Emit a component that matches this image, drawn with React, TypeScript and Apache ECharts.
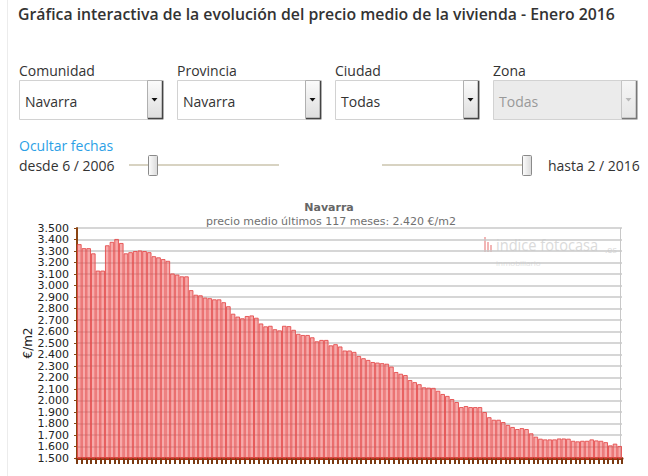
import React, { useEffect, useRef } from "react";
import * as echarts from "echarts";

// ---- data ----
const monthLabels: string[] = (() => {
  const out: string[] = [];
  let m = 6, y = 2006;
  while (!(y === 2016 && m === 3)) {
    out.push(`${m}/${y}`);
    m++;
    if (m > 12) { m = 1; y++; }
  }
  return out;
})();

const prices: number[] = [
  3360, 3325, 3325, 3280, 3130, 3130, 3350, 3380, 3405, 3370,
  3280, 3290, 3300, 3305, 3300, 3290, 3255, 3245, 3230, 3215,
  3105, 3095, 3080, 3080, 2960, 2920, 2915, 2895, 2890, 2880,
  2880, 2855, 2820, 2755, 2730, 2715, 2735, 2740, 2720, 2670,
  2645, 2650, 2620, 2610, 2650, 2647, 2615, 2580, 2570, 2570,
  2550, 2515, 2527, 2527, 2480, 2490, 2470, 2435, 2435, 2423,
  2388, 2368, 2353, 2335, 2330, 2325, 2320, 2295, 2248, 2233,
  2222, 2178, 2160, 2142, 2115, 2112, 2110, 2085, 2057, 2040,
  2013, 1987, 1943, 1952, 1943, 1943, 1943, 1900, 1855, 1833,
  1833, 1813, 1788, 1770, 1752, 1760, 1752, 1715, 1686, 1668,
  1662, 1662, 1662, 1670, 1670, 1668, 1650, 1645, 1650, 1650,
  1662, 1653, 1650, 1638, 1610, 1625, 1605,
];

const pageTitle = "Gráfica interactiva de la evolución del precio medio de la vivienda - Enero 2016";
const selectLabels = ["Comunidad", "Provincia", "Ciudad", "Zona"];
const selectValues = ["Navarra", "Navarra", "Todas", "Todas"];
const chartTitle = "Navarra";
const chartSubtitle = "precio medio últimos 117 meses: 2.420 €/m2";
const yName = "€/m2";

const UI_FONT = "'Open Sans', sans-serif";
const CH_FONT = "'DejaVu Sans', Verdana, sans-serif";

function fmtThousands(v: number): string {
  const th = Math.floor(v / 1000);
  const rest = Math.round(v % 1000);
  return th > 0 ? `${th}.${String(rest).padStart(3, "0")}` : String(rest);
}

function selectBox(x: number, label: string, value: string, disabled: boolean): any[] {
  const y = 80, w = 144, h = 39, bw = 16;
  const bx = x + w - bw;
  return [
    { type: "text", x, y: 70, style: { text: label, fill: "#333", font: `14px ${UI_FONT}`, textVerticalAlign: "middle" } },
    { type: "rect", shape: { x: x + 0.5, y: y + 0.5, width: w, height: h }, style: { fill: disabled ? "#ebebeb" : "#fff", stroke: "#d2d2d2", lineWidth: 1 } },
    { type: "text", x: x + 6, y: y + 21, style: { text: value, fill: disabled ? "#999" : "#333", font: `14px ${UI_FONT}`, textVerticalAlign: "middle" } },
    {
      type: "rect", shape: { x: bx + 0.5, y: y + 0.5, width: bw - 1, height: h - 1 },
      style: {
        fill: new echarts.graphic.LinearGradient(0, 0, 0, 1, [
          { offset: 0, color: disabled ? "#f6f6f6" : "#fbfbfb" },
          { offset: 1, color: disabled ? "#e6e6e6" : "#dedede" },
        ]),
        stroke: disabled ? "#c4c4c4" : "#b0b0b0", lineWidth: 1,
      },
    },
    { type: "line", shape: { x1: bx + bw - 0.5, y1: y + 1, x2: bx + bw - 0.5, y2: y + h }, style: { stroke: disabled ? "#777" : "#444", lineWidth: 1.5 } },
    { type: "line", shape: { x1: bx + 1, y1: y + h - 0.5, x2: bx + bw, y2: y + h - 0.5 }, style: { stroke: disabled ? "#777" : "#444", lineWidth: 1.5 } },
    { type: "polygon", shape: { points: [[bx + 4.5, y + 18], [bx + 10.5, y + 18], [bx + 7.5, y + 21.5]] }, style: { fill: disabled ? "#b8b8b8" : "#111" } },
  ];
}

function slider(x1: number, x2: number, hx: number): any[] {
  return [
    { type: "line", shape: { x1, y1: 165, x2, y2: 165 }, style: { stroke: "#d8d3c2", lineWidth: 2 } },
    {
      type: "rect", shape: { x: hx + 0.5, y: 155.5, width: 9, height: 20, r: 1 },
      style: {
        fill: new echarts.graphic.LinearGradient(0, 0, 1, 0, [
          { offset: 0, color: "#fdfdfd" },
          { offset: 1, color: "#d9d9d9" },
        ]),
        stroke: "#8a8a8a", lineWidth: 1,
      },
    },
  ];
}

export default function App() {
  const ref = useRef<HTMLDivElement>(null);

  useEffect(() => {
    if (!ref.current) return;
    const chart = echarts.init(ref.current, undefined, { renderer: "svg" });

    const graphics: any[] = [
      { type: "line", shape: { x1: 7.5, y1: 0, x2: 7.5, y2: 476 }, style: { stroke: "#ececec", lineWidth: 1 } },
      { type: "text", x: 18, y: 14, style: { text: pageTitle, fill: "#333", font: `600 15.8px ${UI_FONT}`, textVerticalAlign: "middle" } },
      ...selectBox(19, selectLabels[0], selectValues[0], false),
      ...selectBox(177, selectLabels[1], selectValues[1], false),
      ...selectBox(335, selectLabels[2], selectValues[2], false),
      ...selectBox(493, selectLabels[3], selectValues[3], true),
      { type: "text", x: 19, y: 145, style: { text: "Ocultar fechas", fill: "#2c9fe6", font: `14px ${UI_FONT}`, textVerticalAlign: "middle" } },
      { type: "text", x: 19, y: 165, style: { text: "desde 6 / 2006", fill: "#333", font: `14px ${UI_FONT}`, textVerticalAlign: "middle" } },
      ...slider(129, 279, 148),
      ...slider(382, 523, 522),
      { type: "text", x: 548, y: 165, style: { text: "hasta 2 / 2016", fill: "#333", font: `14px ${UI_FONT}`, textVerticalAlign: "middle" } },
      // chart titles
      { type: "text", x: 329, y: 207, style: { text: chartTitle, fill: "#666", font: `bold 11px ${CH_FONT}`, textAlign: "center", textVerticalAlign: "middle" } },
      { type: "text", x: 331, y: 221, style: { text: chartSubtitle, fill: "#707070", font: `11px ${CH_FONT}`, textAlign: "center", textVerticalAlign: "middle" } },
      // watermark
      { type: "rect", shape: { x: 484, y: 237, width: 2, height: 15 }, style: { fill: "#f2b5b5" } },
      { type: "rect", shape: { x: 487, y: 242, width: 2, height: 10 }, style: { fill: "#f2b5b5" } },
      { type: "rect", shape: { x: 490, y: 245, width: 2, height: 7 }, style: { fill: "#f2b5b5" } },
      { type: "text", x: 496, y: 245, scaleX: 0.86, style: { text: "indice fotocasa", fill: "#dadada", font: `17px ${UI_FONT}`, textVerticalAlign: "middle" } },
      { type: "text", x: 605, y: 249, style: { text: ".es", fill: "#dadada", font: `9px ${UI_FONT}`, textVerticalAlign: "middle" } },
      { type: "text", x: 496, y: 262, style: { text: "inmobiliario", fill: "#e2e2e2", font: `8px ${UI_FONT}`, textVerticalAlign: "middle" } },
      // right border of plot area
      { type: "line", shape: { x1: 620.5, y1: 228, x2: 620.5, y2: 458 }, style: { stroke: "#c8c8c8", lineWidth: 1 }, z: 0 },
    ];

    chart.setOption({
      animation: false,
      backgroundColor: "#fff",
      grid: { left: 77, right: 26, top: 228, bottom: 18, containLabel: false },
      xAxis: {
        type: "category",
        data: monthLabels,
        boundaryGap: true,
        axisLine: { show: true, lineStyle: { color: "#a82a0c", width: 3 } },
        axisTick: { show: true, interval: 0, length: 6, lineStyle: { color: "#7a3a12", width: 2 } },
        axisLabel: { show: false },
        splitLine: { show: false },
      },
      yAxis: {
        type: "value",
        min: 1500,
        max: 3500,
        interval: 100,
        name: yName,
        nameLocation: "middle",
        nameRotate: 90,
        nameGap: 43,
        nameMoveOverlap: false,
        nameTextStyle: { color: "#222", fontSize: 12, fontFamily: CH_FONT },
        axisLine: { show: true, lineStyle: { color: "#8b4513", width: 2 } },
        axisTick: { show: true, length: 3, lineStyle: { color: "#8b4513", width: 1 } },
        axisLabel: { color: "#222", fontSize: 11, fontFamily: CH_FONT, margin: 8, formatter: (v: number) => fmtThousands(v) },
        splitLine: { show: true, lineStyle: { color: "#c8c8c8", width: 1.5 } },
      },
      series: [
        {
          type: "bar",
          data: prices,
          barCategoryGap: "0%",
          itemStyle: { color: "rgba(240,100,100,0.55)", borderColor: "rgba(228,78,78,0.9)", borderWidth: 1 },
        },
      ],
      graphic: graphics,
    });

    return () => chart.dispose();
  }, []);

  return <div ref={ref} style={{ position: "fixed", left: 0, top: 0, width: 648, height: 476 }} />;
}
